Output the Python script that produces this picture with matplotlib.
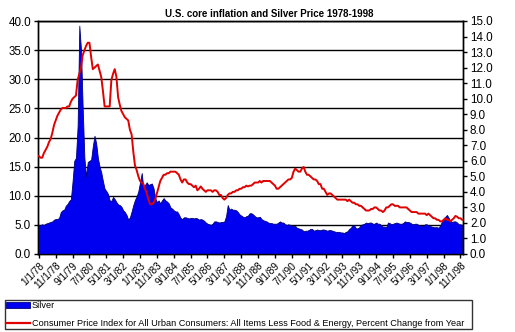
import matplotlib
matplotlib.use("Agg")
import matplotlib.pyplot as plt
from matplotlib.patches import Patch
from matplotlib.lines import Line2D
import numpy as np

plt.rcParams['font.family'] = ['Liberation Sans', 'DejaVu Sans']

title = "U.S. core inflation and Silver Price 1978-1998"
silver_label = "Silver"
cpi_label = ("Consumer Price Index for All Urban Consumers: All Items Less Food & Energy, "
             "Percent Change from Year")

# Monthly silver price (USD/oz), Jan 1978 - Dec 1998 (left axis)
silver = [
    5.0, 5.0, 5.1, 5.0, 5.2, 5.3, 5.4, 5.5, 5.6, 5.9, 6.0, 6.0,          # 1978
    6.2, 7.2, 7.5, 7.6, 8.3, 8.6, 9.1, 9.4, 12.5, 16.0, 16.5, 22.0,      # 1979
    39.2, 35.0, 25.0, 16.5, 13.3, 15.8, 16.0, 16.2, 18.5, 20.3, 19.0, 16.5,  # 1980
    15.0, 14.0, 12.5, 11.2, 10.8, 10.3, 9.2, 9.1, 9.8, 9.4, 8.9, 8.5,    # 1981
    8.4, 8.1, 7.5, 7.2, 6.7, 5.9, 6.3, 7.3, 8.4, 9.3, 9.9, 10.8,         # 1982
    12.3, 13.9, 11.2, 11.9, 12.3, 11.8, 12.0, 12.1, 11.3, 9.6, 8.9, 9.2,  # 1983
    8.7, 9.2, 9.6, 9.2, 9.0, 8.7, 8.0, 7.8, 7.5, 7.3, 7.3, 6.8,          # 1984
    6.2, 6.0, 6.3, 6.3, 6.2, 6.1, 6.2, 6.2, 6.1, 6.2, 6.1, 5.9,          # 1985
    6.0, 5.9, 5.7, 5.4, 5.2, 5.1, 5.0, 5.2, 5.6, 5.6, 5.5, 5.4,          # 1986
    5.5, 5.5, 5.6, 6.5, 8.4, 7.6, 7.8, 7.6, 7.6, 7.5, 7.2, 6.8,          # 1987
    6.6, 6.4, 6.3, 6.5, 6.6, 7.0, 7.0, 6.8, 6.5, 6.3, 6.3, 6.4,          # 1988
    6.0, 5.8, 5.7, 5.6, 5.4, 5.3, 5.3, 5.2, 5.2, 5.2, 5.4, 5.6,          # 1989
    5.4, 5.4, 5.1, 5.0, 5.1, 5.0, 4.9, 4.8, 4.8, 4.5, 4.4, 4.3,          # 1990
    4.2, 3.9, 4.0, 4.0, 4.1, 4.3, 4.3, 4.0, 4.1, 4.2, 4.1, 4.1,          # 1991
    4.2, 4.2, 4.1, 4.0, 4.1, 4.1, 4.0, 3.9, 3.8, 3.8, 3.8, 3.7,          # 1992
    3.7, 3.6, 3.8, 3.9, 4.3, 4.5, 5.0, 4.9, 4.4, 4.4, 4.6, 5.0,          # 1993
    5.1, 5.2, 5.4, 5.3, 5.4, 5.4, 5.2, 5.2, 5.4, 5.2, 5.2, 4.9,          # 1994
    4.7, 4.7, 4.6, 5.4, 5.3, 5.1, 5.2, 5.3, 5.4, 5.3, 5.2, 5.2,          # 1995
    5.3, 5.6, 5.5, 5.5, 5.4, 5.2, 5.1, 5.2, 5.2, 5.0, 4.9, 4.8,          # 1996
    4.9, 5.1, 5.1, 4.9, 4.8, 4.7, 4.6, 4.6, 4.6, 4.5, 4.9, 5.6,          # 1997
    6.0, 6.4, 6.7, 6.2, 5.7, 5.5, 5.6, 5.6, 5.4, 5.1, 5.1, 5.0,          # 1998
]

# Core CPI, percent change from year ago (right axis)
cpi = [
    6.3, 6.2, 6.2, 6.5, 6.7, 6.9, 7.2, 7.4, 7.8, 8.3, 8.6, 8.9,          # 1978
    9.1, 9.3, 9.4, 9.4, 9.4, 9.5, 9.5, 9.8, 10.0, 10.1, 10.2, 11.2,      # 1979
    11.6, 12.0, 12.8, 13.1, 13.4, 13.6, 13.6, 12.7, 11.9, 12.0, 12.1, 12.2,  # 1980
    11.8, 11.4, 10.5, 9.5, 9.5, 9.5, 9.5, 11.2, 11.6, 11.9, 11.4, 10.1,  # 1981
    9.6, 9.2, 9.0, 8.8, 8.7, 8.6, 8.0, 7.7, 6.6, 5.7, 5.4, 5.0,          # 1982
    4.7, 4.6, 4.5, 4.2, 3.9, 3.5, 3.2, 3.2, 3.3, 3.5, 3.9, 4.3,          # 1983
    4.7, 4.9, 5.1, 5.1, 5.2, 5.2, 5.3, 5.3, 5.3, 5.3, 5.2, 5.1,          # 1984
    4.8, 4.6, 4.8, 4.8, 4.6, 4.5, 4.5, 4.4, 4.3, 4.4, 4.1, 4.2,          # 1985
    4.35, 4.2, 4.1, 4.0, 4.1, 4.1, 4.1, 4.0, 4.1, 4.1, 4.0, 3.8,         # 1986
    3.8, 3.6, 3.5, 3.6, 3.8, 3.9, 3.9, 4.0, 4.0, 4.1, 4.1, 4.2,          # 1987
    4.2, 4.3, 4.3, 4.4, 4.35, 4.4, 4.4, 4.5, 4.6, 4.6, 4.6, 4.7,         # 1988
    4.6, 4.7, 4.7, 4.7, 4.7, 4.7, 4.6, 4.5, 4.4, 4.2, 4.2, 4.3,          # 1989
    4.4, 4.5, 4.6, 4.7, 4.8, 4.8, 4.9, 5.3, 5.5, 5.4, 5.3, 5.3,          # 1990
    5.5, 5.6, 5.3, 5.1, 5.1, 5.0, 4.9, 4.8, 4.8, 4.7, 4.5, 4.5,          # 1991
    4.2, 4.2, 4.0, 3.8, 3.9, 3.9, 3.8, 3.7, 3.6, 3.5, 3.5, 3.5,          # 1992
    3.5, 3.5, 3.5, 3.4, 3.5, 3.4, 3.3, 3.3, 3.2, 3.2, 3.1, 3.1,          # 1993
    3.0, 2.9, 2.8, 2.8, 2.8, 2.9, 2.9, 3.0, 3.0, 2.9, 2.8, 2.8,          # 1994
    2.7, 2.8, 3.0, 3.0, 3.1, 3.2, 3.2, 3.1, 3.1, 3.1, 3.0, 3.0,          # 1995
    3.0, 3.0, 3.0, 2.9, 2.8, 2.7, 2.7, 2.7, 2.7, 2.6, 2.6, 2.6,          # 1996
    2.6, 2.6, 2.5, 2.6, 2.5, 2.4, 2.3, 2.3, 2.2, 2.2, 2.1, 2.1,          # 1997
    2.2, 2.3, 2.2, 2.2, 2.1, 2.2, 2.3, 2.45, 2.4, 2.3, 2.3, 2.2,         # 1998
]

tick_labels = ["1/1/78", "11/1/78", "9/1/79", "7/1/80", "5/1/81", "3/1/82", "1/1/83",
               "11/1/83", "9/1/84", "7/1/85", "5/1/86", "3/1/87", "1/1/88", "11/1/88",
               "9/1/89", "7/1/90", "5/1/91", "3/1/92", "1/1/93", "11/1/93", "9/1/94",
               "7/1/95", "5/1/96", "3/1/97", "1/1/98", "11/1/98"]

x = np.arange(len(silver))

fig = plt.figure(figsize=(5.15, 3.32), dpi=100)
ax = fig.add_axes([38/515, 1-254/332, (463-38)/515, (254-21)/332])
ax2 = ax.twinx()

ax.set_zorder(1)
ax2.set_zorder(2)
ax.patch.set_visible(True)
ax2.patch.set_visible(False)

ax.fill_between(x, silver, 0, color='#0000F0', edgecolor='#00007a', linewidth=0.6, zorder=3)
ax2.plot(x, cpi, color='#E00000', linewidth=1.4, zorder=4)

ax.set_ylim(0, 40)
ax.set_yticks(np.arange(0, 40.1, 5))
ax.set_yticklabels([f"{v:.1f}" for v in np.arange(0, 40.1, 5)])
ax2.set_ylim(0, 15)
ax2.set_yticks(np.arange(0, 15.1, 1))
ax2.set_yticklabels([f"{v:.1f}" for v in np.arange(0, 15.1, 1)])

ax.set_xlim(-0.5, len(silver) - 0.5)
ax.set_xticks(np.arange(0, len(silver), 10)[:len(tick_labels)])
ax.set_xticklabels(tick_labels, rotation=45, ha='right', rotation_mode='anchor', fontsize=7.2)

ax.grid(axis='y', color='black', linewidth=1.0, zorder=0)
ax.set_axisbelow(True)

for a in (ax, ax2):
    for s in a.spines.values():
        s.set_color('black')
        s.set_linewidth(1.0)
ax.tick_params(axis='y', labelsize=8.4, length=3, width=1, pad=2, direction='out')
ax.tick_params(axis='x', length=3, width=1, pad=1.5, direction='out')
ax2.tick_params(axis='y', labelsize=8.4, length=3, width=1, pad=2, direction='out')

fig.text(269/515, 1-14/332, title, ha='center', va='center', fontsize=7, fontweight='bold')

handles = [Patch(facecolor='#0000F0', edgecolor='#00007a', linewidth=0.6),
           Line2D([0], [0], color='#E00000', linewidth=1.6)]
leg = fig.legend(handles, [silver_label, cpi_label],
                 loc='lower left', bbox_to_anchor=(5/515, 3/332, 467/515, 31/332),
                 mode='expand', ncol=1, fontsize=6.6, frameon=True, fancybox=False,
                 edgecolor='black', borderaxespad=0, borderpad=0.15, labelspacing=0.9,
                 handlelength=2.6, handleheight=0.6, handletextpad=0.2)
leg.get_frame().set_linewidth(1.0)

fig.savefig("out.png", dpi=100)
